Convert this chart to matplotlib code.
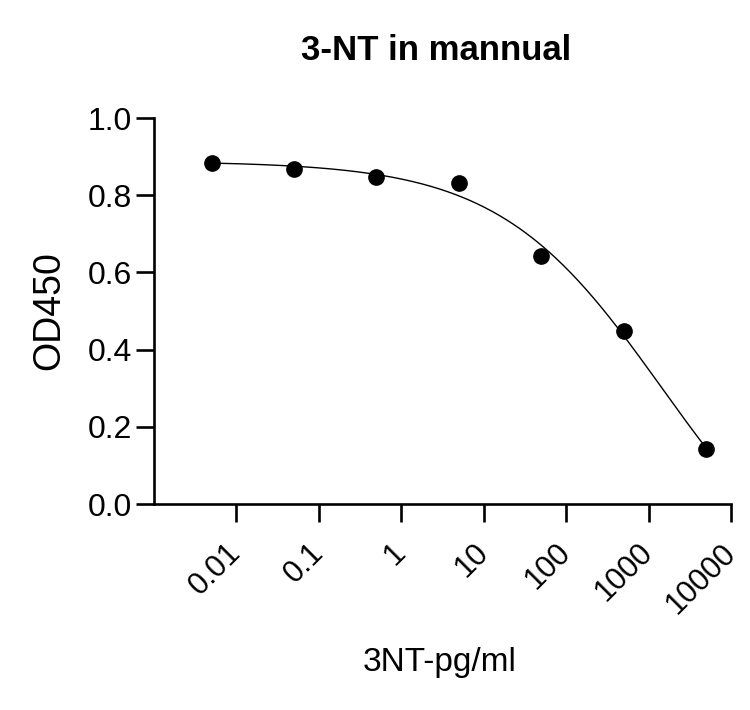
import numpy as np
import matplotlib
matplotlib.use("Agg")
import matplotlib.pyplot as plt

plt.rcParams['font.family'] = ['Liberation Sans', 'DejaVu Sans']

title = "3-NT in mannual"
x_label = "3NT-pg/ml"
y_label = "OD450"
conc = [0.005, 0.05, 0.5, 5, 50, 500, 5000]
od450 = [0.884, 0.867, 0.846, 0.832, 0.642, 0.448, 0.142]
x_ticks = [0.01, 0.1, 1, 10, 100, 1000, 10000]
x_tick_labels = ["0.01", "0.1", "1", "10", "100", "1000", "10000"]
y_ticks = [0.0, 0.2, 0.4, 0.6, 0.8, 1.0]

# 4-parameter logistic fit (grid over EC50/Hill, linear LS for bottom/top)
xa = np.array(conc)
ya = np.array(od450)
best = None
for lc in np.linspace(0, 5, 251):
    for h in np.linspace(0.2, 2.5, 231):
        g = 1.0 / (1.0 + (xa / 10 ** lc) ** h)
        A = np.column_stack([1 - g, g])
        coef, *_ = np.linalg.lstsq(A, ya, rcond=None)
        r = np.sum((A @ coef - ya) ** 2)
        if best is None or r < best[0]:
            best = (r, lc, h, coef)
_, lc, h, (bottom, top) = best
xf = np.logspace(np.log10(conc[0]), np.log10(conc[-1]), 400)
yf = bottom + (top - bottom) / (1.0 + (xf / 10 ** lc) ** h)

W, H = 750, 710
fig = plt.figure(figsize=(7.5, 7.1), dpi=100)
ax = fig.add_axes([154 / W, 1 - 504 / H, 577 / W, 386 / H])
ax.plot(xf, yf, color='black', lw=1.0)
ax.plot(conc, od450, 'o', color='black', markersize=11)
ax.set_xscale('log')
ax.set_xlim(1e-3, 1e4)
ax.set_ylim(0, 1.0)
ax.set_xticks(x_ticks)
ax.set_xticklabels(x_tick_labels, rotation=45, ha='right', va='center',
                   rotation_mode='anchor', fontsize=22)
ax.minorticks_off()
ax.set_yticks(y_ticks)
ax.set_yticklabels([f"{v:.1f}" for v in y_ticks], fontsize=23)
for s in ['top', 'right']:
    ax.spines[s].set_visible(False)
for s in ['left', 'bottom']:
    ax.spines[s].set_linewidth(1.9)
ax.tick_params(axis='y', length=13, width=1.9, pad=3)
ax.tick_params(axis='x', length=13, width=1.9, pad=19)
fig.text(440 / W, 1 - 662 / H, x_label, fontsize=24, ha='center', va='center')
fig.text(49 / W, 1 - 311 / H, y_label, fontsize=27, ha='center', va='center', rotation=90)
fig.text(436 / W, 1 - 50 / H, title, fontsize=25, fontweight='bold', ha='center', va='center')
ax.patch.set_visible(False)
fig.savefig("out.png", dpi=100)
